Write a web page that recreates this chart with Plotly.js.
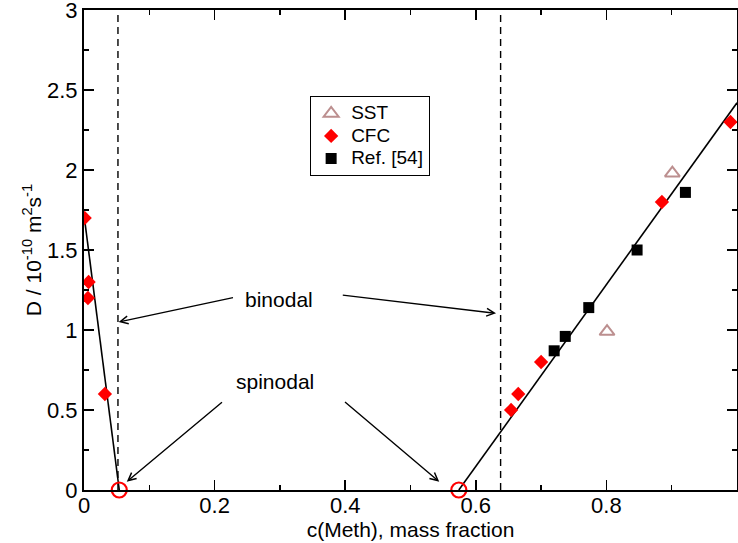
<!DOCTYPE html>
<html>
<head>
<meta charset="utf-8">
<script src="https://cdn.plot.ly/plotly-3.0.1.min.js"></script>
<style>html,body{margin:0;padding:0;background:#fff;}</style>
</head>
<body>
<div id="chart" style="width:738px;height:543px;"></div>
<script>
// SST data
const sstX = [0.801, 0.901];
const sstY = [0.99, 1.98];
// CFC data
const cfcX = [0.001, 0.007, 0.006, 0.032, 0.654, 0.665, 0.700, 0.885, 0.990];
const cfcY = [1.70, 1.30, 1.20, 0.60, 0.50, 0.60, 0.80, 1.80, 2.30];
// Ref. [54] data
const refX = [0.720, 0.737, 0.773, 0.847, 0.921];
const refY = [0.87, 0.96, 1.14, 1.50, 1.86];
// fitted lines
const fitLeftX = [0.0, 0.054];
const fitLeftY = [1.72, 0.0];
const fitRightX = [0.574, 1.0];
const fitRightY = [0.0, 2.42];
// spinodal points
const spinodalX = [0.054, 0.574];
const spinodalY = [0, 0];
// binodal positions
const binodalX = [0.052, 0.638];
// legend names
const seriesNames = ["SST", "CFC", "Ref. [54]"];
// annotation labels
const labelText = ["binodal", "spinodal"];
const labelX = [0.298, 0.293];
const labelY = [1.19, 0.68];
// arrows: [tailX, tailY, headX, headY]
const binodalArrows = [[0.2305, 1.204, 0.053, 1.05], [0.394, 1.219, 0.631, 1.104]];
const spinodalArrows = [[0.2136, 0.556, 0.0655, 0.052], [0.3974, 0.558, 0.544, 0.052]];

const FONT = "Liberation Sans, Arial, Helvetica, sans-serif";
const legendName = s => '<span style="font-size:19px">' + s + '</span>';

const traces = [
  {x: fitLeftX, y: fitLeftY, mode: 'lines', line: {color: 'black', width: 1.6}, showlegend: false, hoverinfo: 'skip'},
  {x: fitRightX, y: fitRightY, mode: 'lines', line: {color: 'black', width: 1.6}, showlegend: false, hoverinfo: 'skip'},
  {x: sstX, y: sstY, mode: 'markers', name: legendName(seriesNames[0]),
   marker: {symbol: 'triangle-up-open', size: 13, color: '#bc8f8f', line: {width: 2, color: '#bc8f8f'}}},
  {x: cfcX, y: cfcY, mode: 'markers', name: legendName(seriesNames[1]),
   marker: {symbol: 'diamond', size: 11, color: '#ff0000'}},
  {x: refX, y: refY, mode: 'markers', name: legendName(seriesNames[2]),
   marker: {symbol: 'square', size: 11, color: '#000000'}},
  {x: spinodalX, y: spinodalY, mode: 'markers', showlegend: false, cliponaxis: false,
   marker: {symbol: 'circle-open', size: 15, color: '#ff0000', line: {width: 2.2, color: '#ff0000'}}}
];

const shapes = binodalX.map(v => ({
  type: 'line', xref: 'x', yref: 'y', x0: v, x1: v, y0: 0, y1: 3,
  line: {color: 'black', width: 1.4, dash: '7px,5px'}, layer: 'below'
}));

const annotations = [];
labelText.forEach((t, i) => annotations.push({
  x: labelX[i], y: labelY[i], xref: 'x', yref: 'y', text: t, showarrow: false,
  font: {family: FONT, size: 21, color: 'black'}
}));
binodalArrows.concat(spinodalArrows).forEach(a => annotations.push({
  x: a[2], y: a[3], ax: a[0], ay: a[1], xref: 'x', yref: 'y', axref: 'x', ayref: 'y',
  text: '', showarrow: true, arrowhead: 5, arrowsize: 1.1, arrowwidth: 1.4, arrowcolor: 'black', standoff: 0
}));

const axisCommon = {
  showgrid: false, zeroline: false, showline: true, linecolor: 'black', linewidth: 2,
  mirror: 'allticks', ticks: 'inside', ticklen: 10, tickwidth: 1.5, tickcolor: 'black',
  tickfont: {family: FONT, size: 22, color: 'black'}
};

const layout = {
  width: 738, height: 543,
  margin: {l: 84, r: 1, t: 10, b: 53},
  paper_bgcolor: 'white', plot_bgcolor: 'white',
  font: {family: FONT, color: 'black'},
  showlegend: true,
  legend: {x: 0.346, y: 0.8208, xanchor: 'left', yanchor: 'top',
           bordercolor: 'black', borderwidth: 1.2, bgcolor: 'white',
           font: {family: FONT, size: 15, color: 'black'}},
  xaxis: Object.assign({}, axisCommon, {
    range: [0, 1], dtick: 0.2, tick0: 0, ticklabelstandoff: -5,
    minor: {dtick: 0.1, ticks: 'inside', ticklen: 5, tickwidth: 1.5, tickcolor: 'black'},
    title: {text: 'c(Meth), mass fraction', font: {family: FONT, size: 21, color: 'black'}, standoff: 2}
  }),
  yaxis: Object.assign({}, axisCommon, {
    range: [0, 3], dtick: 0.5, tick0: 0, ticklabeloverflow: 'allow',
    minor: {dtick: 0.25, ticks: 'inside', ticklen: 5, tickwidth: 1.5, tickcolor: 'black'},
    title: {text: 'D / 10<sup>-10</sup> m<sup>2</sup>s<sup>-1</sup>', font: {family: FONT, size: 21, color: 'black'}, standoff: 0}
  }),
  shapes: shapes,
  annotations: annotations
};

Plotly.newPlot('chart', traces, layout, {displayModeBar: false, staticPlot: true});
</script>
</body>
</html>
